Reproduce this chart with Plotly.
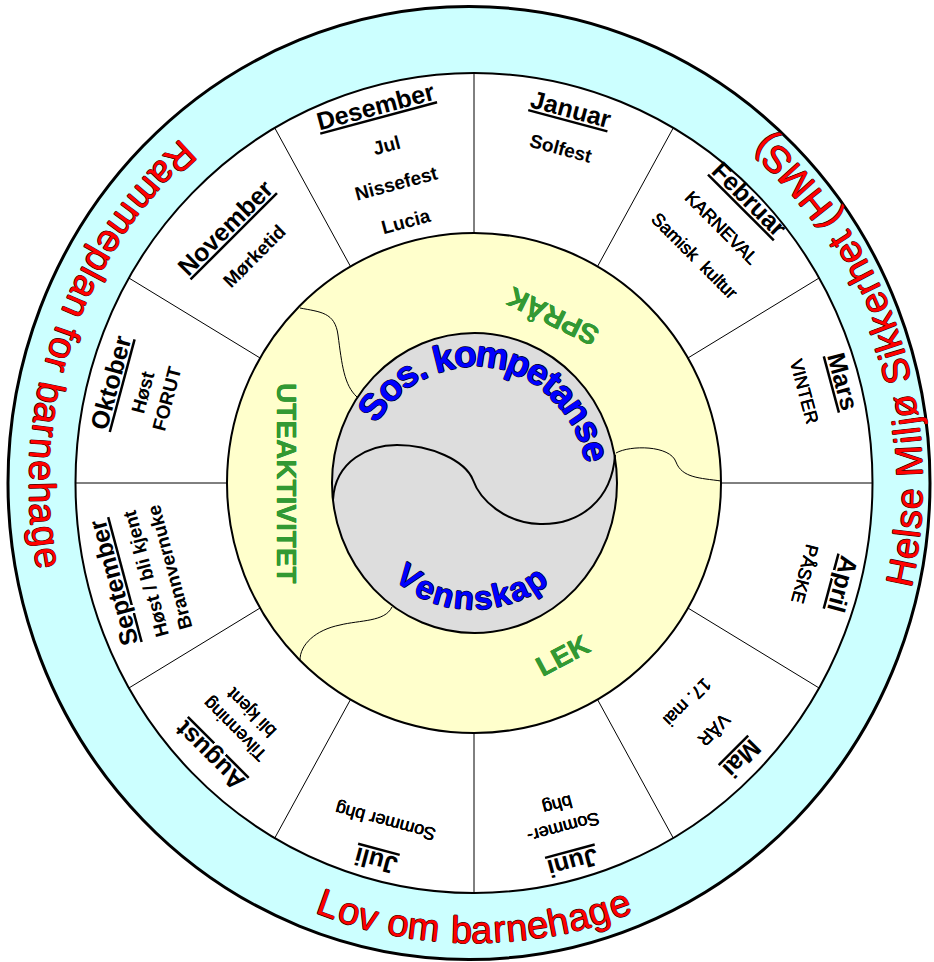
import math
import plotly.graph_objects as go

# ---------------- data ----------------
MONTHS = ["Januar", "Februar", "Mars", "April", "Mai", "Juni", "Juli",
          "August", "September", "Oktober", "November", "Desember"]
ACTIVITIES = [
    ["Solfest"],
    ["KARNEVAL", "Samisk  kultur"],
    ["VINTER"],
    ["PÅSKE"],
    ["VÅR", "17. mai"],
    ["Sommer-<br>bhg"],
    ["Sommer bhg"],
    ["Tilvenning<br>bli kjent"],
    ["Høst / bli kjent<br>Brannvernuke"],
    ["Høst<br>FORUT"],
    ["Mørketid"],
    ["Jul", "Nissefest", "Lucia"],
]
OUTER_TEXTS = ["Rammeplan for barnehage", "Helse Miljø Sikkerhet (HMS)", "Lov om barnehage"]
THEMES = ["SPRÅK", "LEK", "UTEAKTIVITET"]
CORE = ["Sos. kompetanse", "Vennskap"]

# ---------------- layout / style ----------------
W, H = 934, 962
CX, CY = 474, 483
K = 1.03
RINGS = {  # rx, ry, x-offset of centre
    "outer": (461, 476.5, -5),
    "white": (398.5, 410, 0),
    "yellow": (247, 250, 0),
    "gray": (142.5, 150, 0.5),
}
FONT = "Liberation Sans, Arial, sans-serif"
CYAN, YELLOW, GRAY = "#ccffff", "#ffffcc", "#dddddd"
GREEN, RED, BLUE = "#339933", "#ff0000", "#0000ff"

TITLE_R = [376, 390, 382, 382, 379, 382, 380, 374, 374, 377, 351, 379]
BOLD_SUB = {"Januar", "Desember", "November", "Oktober", "September"}
OUTER_POS = [(289, 432), (72, 436), (180, 434)]      # centre angle, radius
THEME_POS = [(26, 180), (152, 190), (270, 187)]
CORE_POS = [(10.5, 125, True), (181.5, 112, False)]  # angle, radius, tops outward

AW = {' ': 278, '(': 333, ')': 333, 'H': 722, 'M': 833, 'S': 667, 'L': 556, 'R': 722,
      'a': 556, 'b': 556, 'e': 556, 'f': 278, 'g': 556, 'h': 556, 'i': 222, 'j': 222,
      'k': 500, 'l': 222, 'm': 833, 'n': 556, 'o': 556, 'p': 556, 'r': 333, 's': 500,
      't': 278, 'v': 500, 'ø': 611}
AWB = {' ': 278, '.': 278, 'S': 667, 'V': 667, 'a': 556, 'e': 556, 'k': 556, 'm': 889,
       'n': 611, 'o': 611, 'p': 611, 's': 556, 't': 333}


def P(th, r):
    t = math.radians(th)
    return CX + r * math.sin(t), CY - K * r * math.cos(t)


def ring_pt(name, th):
    rx, ry, dx = RINGS[name]
    t = math.radians(th)
    return CX + dx + rx * math.sin(t), CY - ry * math.cos(t)


def norm(a):
    a = a % 360
    return a - 360 if a > 180 else a


shapes = []
annotations = []


def ellipse(name, fill, lw):
    rx, ry, dx = RINGS[name]
    shapes.append(dict(type="circle", xref="x", yref="y",
                       x0=CX + dx - rx, x1=CX + dx + rx, y0=CY - ry, y1=CY + ry,
                       fillcolor=fill, line=dict(color="black", width=lw)))


def rel_path(segs, lw):
    d = ""
    for cmd, pts in segs:
        d += cmd + " " + " ".join(f"{CX + px:.1f},{CY + py:.1f}" for px, py in pts) + " "
    shapes.append(dict(type="path", xref="x", yref="y", path=d.strip(),
                       line=dict(color="black", width=lw)))


ellipse("outer", CYAN, 3)
ellipse("white", "white", 2)
for i in range(12):
    th = 30 * i
    x0, y0 = ring_pt("yellow", th)
    x1, y1 = ring_pt("white", th)
    shapes.append(dict(type="line", xref="x", yref="y", x0=x0, y0=y0, x1=x1, y1=y1,
                       line=dict(color="black", width=1)))
ellipse("yellow", YELLOW, 2)

# puzzle-like boundaries in the yellow ring (relative to centre)
rel_path([("M", [(-174, -175)]), ("C", [(-154, -171), (-139, -171), (-136, -148)]),
          ("C", [(-132, -118), (-130, -98), (-117, -86)])], 1)
rel_path([("M", [(142, -30)]), ("C", [(156, -38), (196, -38), (202, -21)]),
          ("C", [(208, -5), (226, -5), (247, -2)])], 1)
rel_path([("M", [(-82, 124)]), ("C", [(-89, 139), (-114, 137), (-134, 142)]),
          ("C", [(-159, 147), (-174, 162), (-174, 177)])], 1)

ellipse("gray", GRAY, 2)
rel_path([("M", [(-141, 17)]), ("C", [(-139, -23), (-104, -38), (-77, -38)]),
          ("C", [(-44, -38), (-9, -23), (-1, -3)]),
          ("C", [(6, 17), (31, 40), (66, 41)]),
          ("C", [(106, 42), (138, 17), (141, -28)])], 2)

# ---------------- month texts ----------------
THIN_SH = "0.25px 0 0 #000, -0.25px 0 0 #000"
for i, (m, acts) in enumerate(zip(MONTHS, ACTIVITIES)):
    th = 15 + 30 * i
    rt = TITLE_R[i]
    x, y = P(th, rt)
    annotations.append(dict(x=x, y=y, text=m, textangle=norm(th), showarrow=False,
                            xanchor="center", yanchor="middle",
                            font=dict(family=FONT, size=25, color="black", weight="bold",
                                      lineposition="under")))
    r = rt
    first = True
    for a in acts:
        nl = a.count("<br>") + 1
        if nl == 1:
            r = r - (40 if first else 38)
            rc = r
        else:
            rc = r - 36 - (nl - 1) * 11
        first = False
        x, y = P(th, rc)
        bold = m in BOLD_SUB
        annotations.append(dict(x=x, y=y, text=a, textangle=norm(th), showarrow=False,
                                xanchor="center", yanchor="middle", align="center",
                                font=dict(family=FONT, size=19 if bold else 18, color="black",
                                          weight="bold" if bold else "normal",
                                          shadow="none" if bold else THIN_SH)))


# ---------------- curved texts ----------------
def curved(text, thc, r, fs, widths, tops_out, color, bold, shadow):
    total = sum(widths.get(c, 556) for c in text) / 1000 * fs
    ang = math.degrees(total / r)
    sgn = 1 if tops_out else -1
    start = thc - sgn * ang / 2
    cum = 0.0
    for c in text:
        w = widths.get(c, 556) / 1000 * fs
        th = start + sgn * math.degrees((cum + w / 2) / r)
        cum += w
        if c == " ":
            continue
        x, y = P(th, r)
        rot = th if tops_out else th + 180
        annotations.append(dict(x=x, y=y, text=c, textangle=norm(rot), showarrow=False,
                                xanchor="center", yanchor="middle",
                                font=dict(family=FONT, size=fs, color=color,
                                          weight="bold" if bold else "normal",
                                          shadow=shadow)))


RED_SH = ("0.6px 0 0 #300, -0.6px 0 0 #300, 0 0.6px 0 #300, 0 -0.6px 0 #300")
BLUE_SH = ("0.7px 0 0 #002, -0.7px 0 0 #002, 0 0.7px 0 #002, 0 -0.7px 0 #002")
for t, (thc, r) in zip(OUTER_TEXTS, OUTER_POS):
    curved(t, thc, r, 38, AW, False, RED, False, RED_SH)
for t, (thc, r, out), fs in zip(CORE, CORE_POS, [37, 33]):
    curved(t, thc, r, fs, AWB, out, BLUE, True, BLUE_SH)

for t, (th, r) in zip(THEMES, THEME_POS):
    x, y = P(th, r)
    annotations.append(dict(x=x, y=y, text=t, textangle=norm(th + 180), showarrow=False,
                            xanchor="center", yanchor="middle",
                            font=dict(family=FONT, size=28, color=GREEN, weight="bold",
                                      shadow="0.3px 0 0 #393, -0.3px 0 0 #393")))

fig = go.Figure(go.Scatter(x=[CX], y=[CY], mode="markers", marker=dict(opacity=0),
                           hoverinfo="skip", showlegend=False))
fig.update_layout(width=W, height=H, margin=dict(l=0, r=0, t=0, b=0),
                  paper_bgcolor="white", plot_bgcolor="white",
                  xaxis=dict(range=[0, W], visible=False, fixedrange=True),
                  yaxis=dict(range=[H, 0], visible=False, fixedrange=True),
                  shapes=shapes, annotations=annotations, showlegend=False)
fig.write_html("out.html", config={"displayModeBar": False},
               post_script="document.body.style.margin='0px';document.body.style.overflow='hidden';")
